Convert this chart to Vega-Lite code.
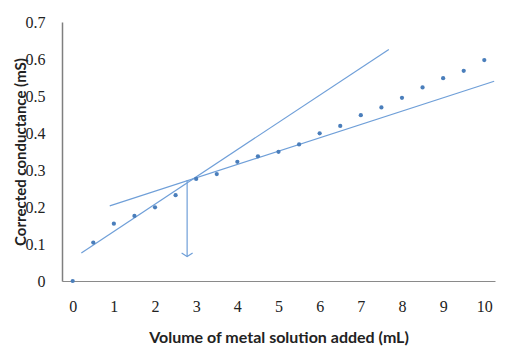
{
  "$schema": "https://vega.github.io/schema/vega-lite/v6.json",
  "width": 433,
  "height": 259,
  "autosize": {"type": "none"},
  "padding": {"left": 62, "top": 22, "right": 23, "bottom": 74},
  "background": "white",
  "config": {
    "view": {"stroke": null},
    "axis": {"grid": false, "ticks": false, "domain": true, "domainColor": "#8a8a8a", "domainWidth": 1, "labelFont": "Liberation Serif", "labelFontSize": 16, "labelColor": "#222", "labelPadding": 17, "labelOverlap": false, "labelFlush": false, "titleFont": "Lato", "titleFontWeight": "bold", "titleColor": "#222"},
    "axisX": {"titleFontSize": 16, "titlePadding": 15},
    "axisY": {"titleFontSize": 15, "titlePadding": -3, "domain": true, "domainColor": "#7f7f7f", "domainWidth": 1.5}
  },
  "datasets": {
    "points": [
      {"x": 0, "y": 0.0}, {"x": 0.5, "y": 0.104}, {"x": 1, "y": 0.155}, {"x": 1.5, "y": 0.176},
      {"x": 2, "y": 0.199}, {"x": 2.5, "y": 0.232}, {"x": 3, "y": 0.276}, {"x": 3.5, "y": 0.289},
      {"x": 4, "y": 0.322}, {"x": 4.5, "y": 0.337}, {"x": 5, "y": 0.349}, {"x": 5.5, "y": 0.369},
      {"x": 6, "y": 0.399}, {"x": 6.5, "y": 0.419}, {"x": 7, "y": 0.448}, {"x": 7.5, "y": 0.469},
      {"x": 8, "y": 0.495}, {"x": 8.5, "y": 0.523}, {"x": 9, "y": 0.548}, {"x": 9.5, "y": 0.568},
      {"x": 10, "y": 0.597}
    ],
    "lines": [
      {"line": "steep", "x": 0.21, "y": 0.076}, {"line": "steep", "x": 7.68, "y": 0.626},
      {"line": "shallow", "x": 0.9, "y": 0.203}, {"line": "shallow", "x": 10.24, "y": 0.54}
    ],
    "arrow": [{"x": 2.78, "y1": 0.273, "y2": 0.066}]
  },
  "encoding": {
    "x": {"type": "quantitative", "scale": {"domain": [-0.26, 10.26], "nice": false},
          "axis": {"values": [0,1,2,3,4,5,6,7,8,9,10], "title": "Volume of metal solution added (mL)"}},
    "y": {"type": "quantitative", "scale": {"domain": [0, 0.7], "nice": false},
          "axis": {"values": [0,0.1,0.2,0.3,0.4,0.5,0.6,0.7], "format": ".1~f", "title": "Corrected conductance (mS)", "domain": true}}
  },
  "layer": [
    {
      "data": {"name": "lines"},
      "mark": {"type": "line", "color": "#6f9fd8", "strokeWidth": 1.2},
      "encoding": {
        "x": {"field": "x"},
        "y": {"field": "y"},
        "detail": {"field": "line"}
      }
    },
    {
      "data": {"name": "arrow"},
      "mark": {"type": "rule", "color": "#6f9fd8", "strokeWidth": 1.2},
      "encoding": {
        "x": {"field": "x"},
        "y": {"field": "y1"},
        "y2": {"field": "y2"}
      }
    },
    {
      "data": {"name": "arrow"},
      "mark": {"type": "point", "shape": "M-1,-0.65L0,0L1,-0.65", "filled": false, "stroke": "#6f9fd8", "strokeWidth": 1.2, "size": 121, "opacity": 1},
      "encoding": {
        "x": {"field": "x"},
        "y": {"field": "y2"}
      }
    },
    {
      "data": {"name": "points"},
      "mark": {"type": "point", "shape": "circle", "filled": true, "color": "#4a7ebb", "size": 18, "opacity": 1},
      "encoding": {
        "x": {"field": "x"},
        "y": {"field": "y"}
      }
    }
  ]
}
